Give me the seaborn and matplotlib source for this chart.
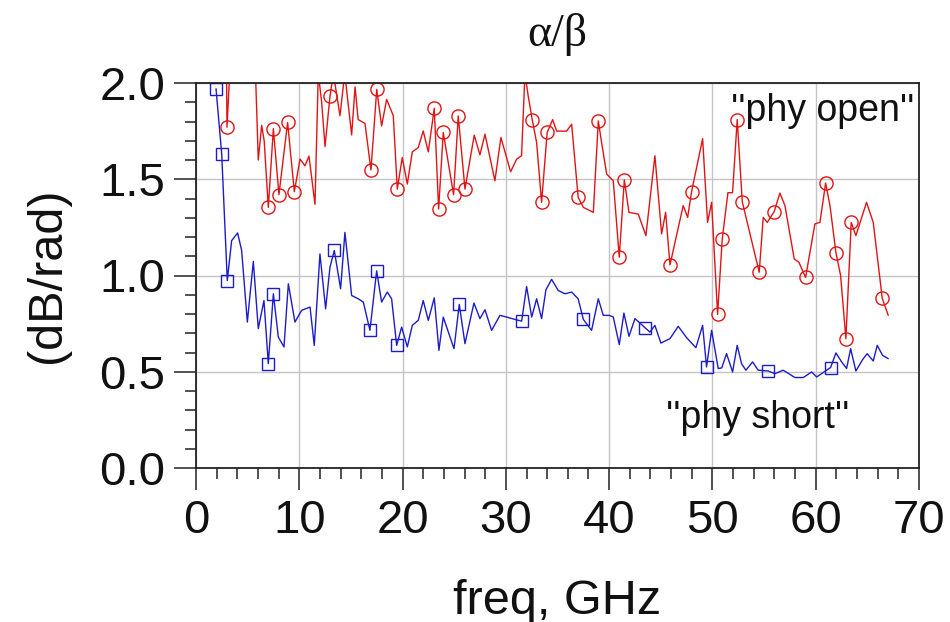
import matplotlib
matplotlib.use("Agg")
import matplotlib.pyplot as plt
import seaborn as sns
from matplotlib.ticker import MultipleLocator, FormatStrFormatter

# ---- data ----
red_freq = [2.0, 2.9, 3.0, 3.5, 5.7, 6.03, 6.36, 6.6, 7.0, 7.49, 8.03, 8.87, 9.52,
            10.07, 10.55, 10.94, 11.52, 11.84, 12.17, 12.49, 12.97, 13.3, 13.94, 14.4,
            15.07, 15.4, 15.7, 16.36, 16.94, 17.5, 17.97, 18.46, 19.1, 19.49, 19.97,
            20.46, 20.94, 21.52, 22.0, 22.49, 23.07, 23.49, 23.94, 24.94, 25.39, 26.04,
            26.94, 27.49, 27.98, 28.94, 29.52, 30.46, 31.04, 31.52, 31.85, 32.17, 32.56,
            32.98, 33.46, 34.0, 34.53, 34.92, 35.88, 36.37, 37.0, 37.5, 38.47, 38.95,
            39.27, 39.76, 40.4, 40.98, 41.47, 41.92, 42.82, 43.56, 44.43, 45.08, 45.47,
            45.89, 47.17, 47.6, 47.98, 49.05, 49.53, 49.92, 50.5, 50.95, 51.5, 51.95,
            52.4, 52.89, 54.53, 54.92, 55.31, 55.98, 56.53, 57.02, 57.92, 58.37, 59.02,
            59.92, 60.41, 60.96, 61.38, 61.96, 62.41, 62.92, 63.44, 63.89, 64.92, 65.57,
            66.44, 67.02]
red_val = [2.6, 2.4, 1.77, 2.3, 2.15, 1.60, 1.78, 1.70, 1.354, 1.763, 1.42, 1.795, 1.435,
           1.605, 1.57, 1.62, 1.37, 2.05, 1.898, 1.67, 1.93, 2.05, 1.83, 2.05,
           1.73, 1.98, 1.81, 1.79, 1.548, 1.967, 1.777, 1.915, 1.83, 1.449, 1.613,
           1.475, 1.642, 1.665, 1.751, 1.642, 1.869, 1.345, 1.743, 1.42, 1.829, 1.449,
           1.729, 1.627, 1.734, 1.492, 1.717, 1.539, 1.604, 1.622, 2.05, 1.93, 1.808,
           1.69, 1.38, 1.743, 1.81, 1.75, 1.75, 1.786, 1.406, 1.354, 1.328, 1.803,
           1.69, 1.527, 1.492, 1.095, 1.497, 1.328, 1.319, 1.207, 1.622, 1.216, 1.328,
           1.055, 1.363, 1.302, 1.435, 1.711, 1.276, 1.38, 0.798, 1.19, 1.43, 1.43,
           1.81, 1.383, 1.017, 1.302, 1.276, 1.332, 1.428, 1.363, 1.086, 1.069, 0.99,
           1.268, 1.276, 1.48, 1.363, 1.118, 1.0, 0.672, 1.276, 1.207, 1.38, 1.276,
           0.882, 0.793]
red_marked = [3.0, 7.0, 7.49, 8.03, 8.87, 9.52, 12.97, 16.94, 17.5, 19.49, 23.07, 23.49,
              23.94, 24.94, 25.39, 26.04, 32.56, 33.46, 34.0, 37.0, 38.95, 40.98, 41.47,
              45.89, 47.98, 50.5, 50.95, 52.4, 52.89, 54.53, 55.98, 59.02, 60.96, 61.96,
              62.92, 63.44, 66.44]

blue_freq = [1.94, 2.49, 3.03, 3.45, 4.03, 4.42, 4.97, 5.55, 6.03, 6.58, 7.0, 7.49, 7.97,
             8.52, 8.94, 9.58, 10.23, 11.04, 11.45, 12.0, 12.55, 12.97, 13.39, 14.0,
             14.42, 15.07, 15.71, 16.2, 16.84, 17.49, 17.97, 18.52, 18.94, 19.43, 19.91,
             20.46, 20.94, 21.52, 22.0, 22.49, 23.07, 23.52, 23.94, 24.98, 25.49, 26.04,
             26.91, 27.49, 27.98, 28.62, 29.43, 30.08, 31.0, 31.53, 32.01, 32.5, 32.98,
             33.46, 33.88, 34.43, 35.07, 35.72, 36.37, 37.0, 37.5, 38.3, 38.95, 39.43,
             40.01, 40.4, 40.98, 41.43, 41.92, 42.5, 43.47, 43.95, 44.43, 45.01, 45.89,
             46.69, 47.5, 48.4, 49.05, 49.43, 49.92, 50.56, 50.9, 51.37, 51.95, 52.4,
             52.82, 53.24, 53.89, 54.43, 55.4, 56.05, 56.85, 57.99, 58.8, 59.6, 60.09,
             61.44, 61.96, 62.51, 62.99, 63.38, 63.89, 64.54, 64.98, 65.57, 65.96, 66.47,
             67.02]
blue_val = [1.97, 1.63, 0.974, 1.181, 1.221, 1.13, 0.758, 1.073, 0.724, 0.87, 0.542, 0.905,
            0.68, 0.629, 0.957, 0.758, 0.819, 0.836, 0.637, 1.112, 0.827, 1.043, 1.13,
            0.931, 1.224, 0.896, 0.879, 0.862, 0.715, 1.024, 0.862, 0.914, 0.879, 0.637,
            0.732, 0.629, 0.741, 0.767, 0.87, 0.767, 0.884, 0.611, 0.784, 0.62, 0.85,
            0.646, 0.857, 0.776, 0.822, 0.715, 0.793, 0.784, 0.77, 0.763, 0.943, 0.784,
            0.879, 0.776, 0.926, 0.98, 0.922, 0.905, 0.914, 0.879, 0.772, 0.715, 0.879,
            0.793, 0.793, 0.784, 0.641, 0.805, 0.684, 0.776, 0.729, 0.706, 0.741, 0.649,
            0.672, 0.736, 0.677, 0.625, 0.741, 0.525, 0.715, 0.517, 0.52, 0.594, 0.499,
            0.637, 0.542, 0.508, 0.551, 0.508, 0.504, 0.49, 0.508, 0.47, 0.47, 0.499,
            0.473, 0.522, 0.598, 0.551, 0.517, 0.62, 0.504, 0.563, 0.594, 0.556, 0.637,
            0.585, 0.568]
blue_marked = [1.94, 2.49, 3.03, 7.0, 7.49, 13.39, 16.84, 17.49, 19.43, 25.49, 31.53,
               37.5, 43.47, 49.43, 55.4, 61.44]

x_ticks = [0, 10, 20, 30, 40, 50, 60, 70]
y_ticks = [0.0, 0.5, 1.0, 1.5, 2.0]
title_text = "\u03b1/\u03b2"
x_label = "freq, GHz"
y_label = "(dB/rad)"
open_label = "''phy open''"
short_label = "''phy short''"

# ---- styling ----
sns.set_style("white")
plt.rcParams["font.family"] = ["Liberation Sans", "DejaVu Sans"]

RED = "#e01414"
BLUE = "#1c1cc8"

fig = plt.figure(figsize=(9.5, 6.22), dpi=100)
ax = fig.add_axes([196 / 950, 1 - 468 / 622, (919 - 196) / 950, (468 - 83) / 622])

red_idx = [i for i, f in enumerate(red_freq) if f in red_marked]
blue_idx = [i for i, f in enumerate(blue_freq) if f in blue_marked]

sns.lineplot(x=red_freq, y=red_val, ax=ax, sort=False, estimator=None, color=RED,
             linewidth=1.0, marker="o", markevery=red_idx, mfc="none", mec=RED,
             ms=9.5, mew=1.0)
sns.lineplot(x=blue_freq, y=blue_val, ax=ax, sort=False, estimator=None, color=BLUE,
             linewidth=1.0, marker="s", markevery=blue_idx, mfc="none", mec=BLUE,
             ms=9.0, mew=1.0)

ax.set_xlim(0, 70)
ax.set_ylim(0, 2.0)
ax.set_xticks(x_ticks)
ax.set_yticks(y_ticks)
ax.yaxis.set_major_formatter(FormatStrFormatter("%.1f"))
ax.xaxis.set_minor_locator(MultipleLocator(2))
ax.yaxis.set_minor_locator(MultipleLocator(0.1))
ax.grid(True, which="major", color="#c4c4c4", linewidth=1.0)
ax.set_axisbelow(True)

ax.tick_params(axis="both", which="major", direction="out", length=16, width=1.1,
               color="#222222", labelsize=34, pad=6, labelcolor="#111111",
               bottom=True, left=True, top=False, right=False)
ax.tick_params(axis="both", which="minor", direction="out", length=8, width=1.1,
               color="#222222", bottom=True, left=True, top=False, right=False)
for s in ax.spines.values():
    s.set_color("#222222")
    s.set_linewidth(1.3)
    s.set_visible(True)

ax.set_xlabel(x_label, fontsize=35, labelpad=26, color="#111111")
ax.set_ylabel(y_label, fontsize=35, labelpad=21, color="#111111")
ax.set_title(title_text, fontsize=33, pad=27,
             family=["Liberation Serif", "DejaVu Serif"], color="#111111")

ax.text(69.6, 1.855, open_label, ha="right", va="center", fontsize=27, color="#111111")
ax.text(54.4, 0.259, short_label, ha="center", va="center", fontsize=27, color="#111111")

fig.savefig("out.png", dpi=100, facecolor="white")
